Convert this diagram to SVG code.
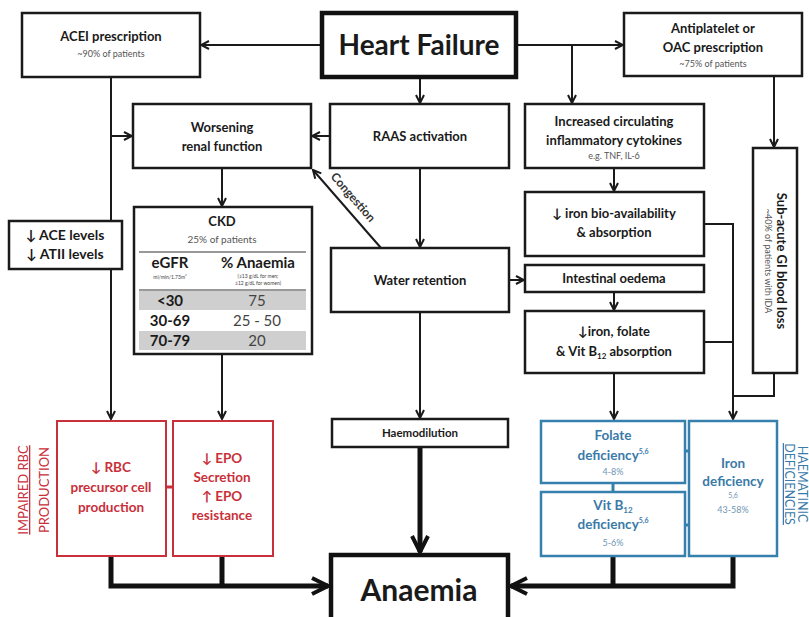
<svg xmlns="http://www.w3.org/2000/svg" width="809" height="617" viewBox="0 0 809 617">
<style>
text{font-family:Lato,"Open Sans","Liberation Sans",sans-serif;fill:#1a1a1a}
.b{font-weight:bold;font-size:13px;text-anchor:middle}
.s{font-size:9px;fill:#555;text-anchor:middle}
.box{fill:#fff;stroke:#1a1a1a;stroke-width:2.5}
.thick{fill:#fff;stroke:#111;stroke-width:4.5}
.red{fill:#fff;stroke:#c8303a;stroke-width:2}
.blue{fill:#fff;stroke:#3580ad;stroke-width:2.5}
.rt{fill:#c8303a;font-weight:bold;font-size:13.5px;text-anchor:middle}
.bt{fill:#3a7aa8;font-weight:bold;font-size:13.5px;text-anchor:middle}
.bs{fill:#6f95b3;font-size:9px;text-anchor:middle}
.c{fill:none;stroke:#1a1a1a;stroke-width:2}
.ct{fill:none;stroke:#111;stroke-width:5}
</style>
<defs>
<marker id="ah" viewBox="0 0 10 10" refX="9" refY="5" markerWidth="10" markerHeight="10" orient="auto" markerUnits="userSpaceOnUse"><path d="M1,1 L9,5 L1,9" fill="none" stroke="#1a1a1a" stroke-width="2"/></marker>
<marker id="aht" viewBox="0 0 10 10" refX="9" refY="5" markerWidth="20" markerHeight="22" orient="auto" markerUnits="userSpaceOnUse"><path d="M1,1 L9,5 L1,9" fill="none" stroke="#111" stroke-width="2"/></marker>
</defs>
<rect width="809" height="617" fill="#fff"/>

<g id="connectors">
<path class="c" d="M322,45 H201" marker-end="url(#ah)"/>
<path class="c" d="M516,45 H623" marker-end="url(#ah)"/>
<path class="c" d="M572,45 V103" marker-end="url(#ah)"/>
<path class="c" d="M420,77 V103" marker-end="url(#ah)"/>
<path class="c" d="M330,136 H312" marker-end="url(#ah)"/>
<path class="c" d="M111,77 V419" marker-end="url(#ah)"/>
<path class="c" d="M111,136 H132" marker-end="url(#ah)"/>
<path class="c" d="M222,168 V206" marker-end="url(#ah)"/>
<path class="c" d="M222,354 V419" marker-end="url(#ah)"/>
<path class="c" d="M774,77 V147" marker-end="url(#ah)"/>
<path class="c" d="M614,168 V191" marker-end="url(#ah)"/>
<path class="c" d="M420,168 V247" marker-end="url(#ah)"/>
<path class="c" d="M381,248 L313,170" marker-end="url(#ah)"/>
<path class="c" d="M509,280 H524" marker-end="url(#ah)"/>
<path class="c" d="M614,292 V310" marker-end="url(#ah)"/>
<path class="c" d="M614,373 V419" marker-end="url(#ah)"/>
<path class="c" d="M704,224 H733 V419" marker-end="url(#ah)"/>
<path class="c" d="M704,342 H733"/>
<path class="c" d="M774,373 V396 H733"/>
<path class="c" d="M420,312 V418" marker-end="url(#ah)"/>
<path class="ct" d="M420,447 V552" marker-end="url(#aht)"/>
<path class="ct" d="M111,556 V586 H328" marker-end="url(#aht)"/>
<path class="ct" d="M222,556 V586"/>
<path class="ct" d="M733,556 V586 H511" marker-end="url(#aht)"/>
<path class="ct" d="M613,556 V586"/>
<path d="M166,487 H173" stroke="#c8303a" stroke-width="3"/>
<path d="M613,483 V492" stroke="#3580ad" stroke-width="3"/>
<path d="M685,451 H689" stroke="#3580ad" stroke-width="3"/>
<path d="M685,525 H689" stroke="#3580ad" stroke-width="3"/>
<text transform="translate(350,200) rotate(49)" style="font-size:12px;font-weight:bold;fill:#333;text-anchor:middle">Congestion</text>
</g>

<g id="heart-failure">
<rect class="thick" x="322" y="13" width="194" height="64"/>
<text x="419" y="55" style="font-weight:bold;font-size:28px;text-anchor:middle">Heart Failure</text>
</g>
<g id="acei">
<rect class="box" x="22" y="13" width="178" height="64"/>
<text class="b" x="111" y="41">ACEI prescription</text>
<text class="s" x="111" y="57">~90% of patients</text>
</g>
<g id="antiplatelet">
<rect class="box" x="624" y="13" width="178" height="63"/>
<text class="b" x="713" y="33">Antiplatelet or</text>
<text class="b" x="713" y="52">OAC prescription</text>
<text class="s" x="713" y="67">~75% of patients</text>
</g>
<g id="worsening">
<rect class="box" x="133" y="104" width="178" height="64"/>
<text class="b" x="222" y="132">Worsening</text>
<text class="b" x="222" y="151">renal function</text>
</g>
<g id="raas">
<rect class="box" x="330" y="104" width="179" height="64"/>
<text class="b" x="420" y="141">RAAS activation</text>
</g>
<g id="cytokines">
<rect class="box" x="525" y="104" width="179" height="64"/>
<text class="b" x="614" y="126">Increased circulating</text>
<text class="b" x="614" y="145">inflammatory cytokines</text>
<text class="s" x="614" y="159">e.g. TNF, IL-6</text>
</g>
<g id="gi-blood-loss">
<rect class="box" x="753" y="148" width="44" height="225"/>
<text class="b" transform="translate(777,261) rotate(90)">Sub-acute GI blood loss</text>
<text class="s" transform="translate(765,261) rotate(90)">~40% of patients with IDA</text>
</g>
<g id="ace-levels">
<rect class="box" x="9" y="221" width="113" height="48"/>
<text class="b" x="65" y="240" style="font-size:14px">↓ ACE levels</text>
<text class="b" x="65" y="259" style="font-size:14px">↓ ATII levels</text>
</g>
<g id="ckd">
<rect class="box" x="134" y="207" width="178" height="147"/>
<text class="b" x="222" y="226">CKD</text>
<text class="s" x="222" y="243" style="font-size:10px">25% of patients</text>
<path d="M139,252 H306" stroke="#777" stroke-width="1.5"/>
<text class="b" x="170" y="268" style="font-size:15px">eGFR</text>
<text class="b" x="258" y="268" style="font-size:15px">% Anaemia</text>
<text x="170" y="279" style="font-size:5px;text-anchor:middle;fill:#444">ml/min/1.73m²</text>
<text x="258" y="278" style="font-size:5px;text-anchor:middle;fill:#444">(≤13 g/dL for men;</text>
<text x="258" y="285" style="font-size:5px;text-anchor:middle;fill:#444">≤12 g/dL for women)</text>
<path d="M139,290 H306" stroke="#777" stroke-width="1.5"/>
<rect x="139" y="291" width="167" height="19" fill="#cfcfcf"/>
<rect x="139" y="331" width="167" height="19" fill="#cfcfcf"/>
<text class="b" x="170" y="306" style="font-size:15px">&lt;30</text>
<text x="257" y="306" style="font-size:15px;text-anchor:middle;fill:#444">75</text>
<text class="b" x="170" y="326" style="font-size:15px">30-69</text>
<text x="257" y="326" style="font-size:15px;text-anchor:middle;fill:#444">25 - 50</text>
<text class="b" x="170" y="346" style="font-size:15px">70-79</text>
<text x="257" y="346" style="font-size:15px;text-anchor:middle;fill:#444">20</text>
</g>
<g id="water-retention">
<rect class="box" x="331" y="248" width="178" height="64"/>
<text class="b" x="420" y="285">Water retention</text>
</g>
<g id="iron-bioavailability">
<rect class="box" x="525" y="192" width="179" height="64"/>
<text class="b" x="614" y="218">↓ iron bio-availability</text>
<text class="b" x="614" y="237">&amp; absorption</text>
</g>
<g id="intestinal-oedema">
<rect class="box" x="525" y="265" width="179" height="27"/>
<text class="b" x="614" y="283">Intestinal oedema</text>
</g>
<g id="iron-folate-absorption">
<rect class="box" x="525" y="311" width="179" height="62"/>
<text class="b" x="614" y="336">↓iron, folate</text>
<text class="b" x="614" y="356">&amp; Vit B<tspan style="font-size:8px" dy="3">12</tspan><tspan dy="-3"> absorption</tspan></text>
</g>
<g id="haemodilution">
<rect class="box" x="332" y="419" width="176" height="28"/>
<text class="b" x="420" y="437" style="font-size:11.5px">Haemodilution</text>
</g>
<g id="anaemia">
<rect class="thick" x="331" y="555" width="177" height="80"/>
<text x="419" y="601" style="font-weight:bold;font-size:30px;text-anchor:middle">Anaemia</text>
</g>
<g id="rbc-precursor">
<rect class="red" x="57" y="421" width="109" height="135"/>
<text class="rt" x="111" y="472">↓ RBC</text>
<text class="rt" x="111" y="492">precursor cell</text>
<text class="rt" x="111" y="512">production</text>
</g>
<g id="epo">
<rect class="red" x="173" y="421" width="100" height="135"/>
<text class="rt" x="222" y="463">↓ EPO</text>
<text class="rt" x="222" y="482">Secretion</text>
<text class="rt" x="222" y="501">↑ EPO</text>
<text class="rt" x="222" y="520">resistance</text>
</g>
<g id="impaired-rbc-label">
<text transform="translate(28,490) rotate(-90)" style="fill:#c8303a;font-size:13px;text-anchor:middle;text-decoration:underline">IMPAIRED RBC</text>
<text transform="translate(49,490) rotate(-90)" style="fill:#c8303a;font-size:13px;text-anchor:middle">PRODUCTION</text>
</g>
<g id="folate">
<rect class="blue" x="541" y="421" width="144" height="62"/>
<text class="bt" x="613" y="440">Folate</text>
<text class="bt" x="613" y="460">deficiency<tspan style="font-size:7px" dy="-6">5,6</tspan></text>
<text class="bs" x="613" y="475">4-8%</text>
</g>
<g id="vitb12">
<rect class="blue" x="541" y="492" width="144" height="64"/>
<text class="bt" x="613" y="510">Vit B<tspan style="font-size:8px" dy="3">12</tspan></text>
<text class="bt" x="613" y="529">deficiency<tspan style="font-size:7px" dy="-6">5,6</tspan></text>
<text class="bs" x="613" y="546">5-6%</text>
</g>
<g id="iron-deficiency">
<rect class="blue" x="689" y="421" width="88" height="135"/>
<text class="bt" x="733" y="468">Iron</text>
<text class="bt" x="733" y="486">deficiency</text>
<text class="bs" x="733" y="498" style="font-size:7px">5,6</text>
<text class="bs" x="733" y="513">43-58%</text>
</g>
<g id="haematinic-label">
<text transform="translate(785,484) rotate(90)" style="fill:#3a7aa8;font-size:12.5px;text-anchor:middle;text-decoration:underline">DEFICIENCIES</text>
<text transform="translate(798,484) rotate(90)" style="fill:#3a7aa8;font-size:12.5px;text-anchor:middle">HAEMATINIC</text>
</g>
</svg>
